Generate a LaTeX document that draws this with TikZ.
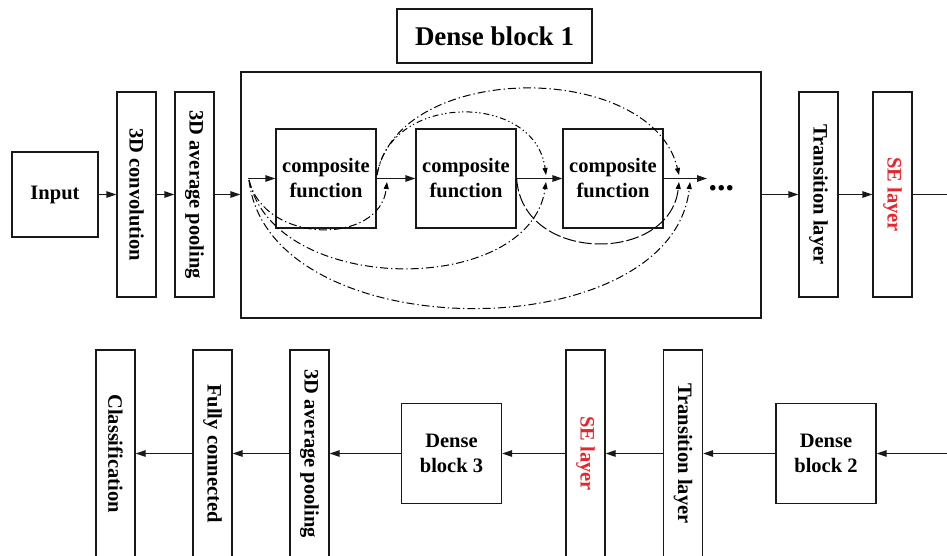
\documentclass[tikz,border=0pt]{standalone}
\usepackage{fontspec}
\setmainfont{Liberation Serif}
\usetikzlibrary{arrows.meta}
\definecolor{sered}{HTML}{E8242C}
\begin{document}
\begin{tikzpicture}[x=1pt,y=-1pt,
  box/.style={draw=black!90, line width=1.3pt, fill=white, inner sep=0pt, align=center,
    font=\bfseries\fontsize{20.5}{25}\selectfont},
  tallbox/.style={box, minimum width=39pt, minimum height=205pt},
  lowbox/.style={box, minimum width=39pt, minimum height=207pt},
  sqbox/.style={box, minimum width=100pt, minimum height=100pt},
  cfbox/.style={box, minimum width=100pt, minimum height=99pt},
  flow/.style={line width=1.3pt, draw=black!90, -{Triangle[length=10pt,width=6.5pt]}},
  tip/.style={-{Triangle[length=7pt,width=5pt]}},
  skipdd/.style={line width=1pt, dash pattern=on 8pt off 3pt on 1.3pt off 3pt, tip},
  skipddd/.style={line width=1pt, dash pattern=on 6pt off 3pt on 1.3pt off 2.5pt on 1.3pt off 3pt, tip},
  skiplong/.style={line width=1pt, dash pattern=on 13pt off 3pt, tip}
]
\useasboundingbox (0,0) rectangle (947,555);

% ---------- upper row ----------
\node[box, minimum width=86pt, minimum height=85pt] (input) at (55,194.5) {Input};
\node[tallbox] (conv) at (136.5,194.5) {\rotatebox{-90}{3D convolution}};
\node[tallbox] (pool) at (194.5,194.5) {\rotatebox{-90}{3D average pooling}};

% dense block 1 frame and its title
\node[draw=black!90, line width=1.3pt, minimum width=520pt, minimum height=246pt, inner sep=0pt] (db1) at (501,195) {};
\node[box, minimum width=195pt, minimum height=54pt, font=\bfseries\fontsize{27}{30}\selectfont] (title) at (494.5,36) {Dense block 1};

\node[cfbox] (cf1) at (326,178.5) {composite\\function};
\node[cfbox] (cf2) at (466,178.5) {composite\\function};
\node[cfbox] (cf3) at (613,178.5) {composite\\function};
\node[anchor=base west, inner sep=0pt, font=\bfseries\fontsize{34}{34}\selectfont] (dots) at (708.5,190) {...};

\node[tallbox] (trans1) at (818.5,194.5) {\rotatebox{-90}{Transition layer}};
\node[tallbox, text=sered] (se1) at (892.5,194.5) {\rotatebox{-90}{SE layer}};

\coordinate (din) at (248,178.5);
\coordinate (dout) at (707,178.5);
\coordinate (rout) at (947,194.5);

\draw[flow] (input) -- (conv);
\draw[flow] (conv) -- (pool);
\draw[flow] (pool.east) -- (pool.east -| db1.west);
\draw[flow] (din) -- (cf1);
\draw[flow] (cf1) -- (cf2);
\draw[flow] (cf2) -- (cf3);
\draw[flow] (cf3) -- (dout);
\draw[flow] (db1.east |- trans1.west) -- (trans1.west);
\draw[flow] (trans1) -- (se1);
\draw[line width=1.3pt, draw=black!90] (se1.east) -- (rout);

% dense connections inside the block
\coordinate (s1) at (249,180);
\coordinate (s2) at (377,175);
\coordinate (t1) at (387,182);
\coordinate (t2a) at (546,175);
\coordinate (t2b) at (546,182);
\coordinate (t3a) at (679,175);
\coordinate (t3b) at (679,182);
\coordinate (t3c) at (690,182);

\draw[skipdd] (s1) .. controls (265,245) and (380,245) .. (t1);
\draw[skipdd] (s1) .. controls (275,297) and (530,297) .. (t2b);
\draw[skipdd] (s1) .. controls (268,350) and (672,350) .. (t3c);
\draw[skipddd] (s2) .. controls (390,92) and (535,92) .. (t2a);
\draw[skipdd] (s2) .. controls (398,60) and (652,60) .. (t3a);
\draw[skiplong] (cf2.east) .. controls (522,264) and (670,264) .. (t3b);

% ---------- lower row ----------
\node[lowbox] (cls) at (115.5,453.5) {\rotatebox{-90}{Classification}};
\node[lowbox] (fc) at (212.5,453.5) {\rotatebox{-90}{Fully connected}};
\node[lowbox] (pool2) at (309.5,453.5) {\rotatebox{-90}{3D average pooling}};
\node[sqbox] (db3) at (451.5,453.5) {Dense\\block 3};
\node[lowbox, text=sered] (se2) at (585.5,453.5) {\rotatebox{-90}{SE layer}};
\node[lowbox] (trans2) at (683,453.5) {\rotatebox{-90}{Transition layer}};
\node[sqbox] (db2) at (826,453.5) {Dense\\block 2};
\coordinate (rin) at (947,453.5);

\draw[flow] (rin) -- (db2);
\draw[flow] (db2) -- (trans2);
\draw[flow] (trans2) -- (se2);
\draw[flow] (se2) -- (db3);
\draw[flow] (db3) -- (pool2);
\draw[flow] (pool2) -- (fc);
\draw[flow] (fc) -- (cls);
\end{tikzpicture}
\end{document}
